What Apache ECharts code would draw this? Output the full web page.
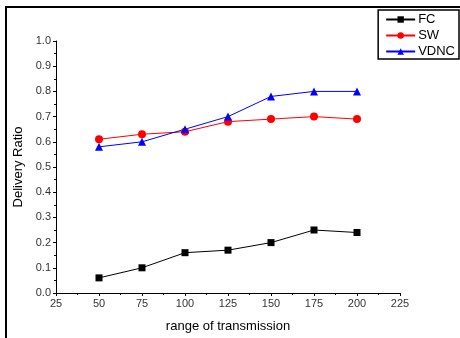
<!DOCTYPE html>
<html><head><meta charset="utf-8">
<script src="https://cdn.jsdelivr.net/npm/echarts@6/dist/echarts.min.js"></script>
<style>html,body{margin:0;padding:0;background:#fff}#c{width:460px;height:338px}</style>
</head><body><div id="c"></div>
<script>
var xValues = [50, 75, 100, 125, 150, 175, 200];
var fcValues = [0.06, 0.10, 0.16, 0.17, 0.20, 0.25, 0.24];
var swValues = [0.61, 0.63, 0.64, 0.68, 0.69, 0.70, 0.69];
var vdncValues = [0.58, 0.60, 0.65, 0.70, 0.78, 0.80, 0.80];
var seriesNames = ['FC', 'SW', 'VDNC'];

function pairs(ys){ return xValues.map(function(x,i){ return [x, ys[i]]; }); }
var chart = echarts.init(document.getElementById('c'), null, {renderer:'canvas'});
var font = 'Arial, "Liberation Sans", sans-serif';
chart.setOption({
  animation:false,
  backgroundColor:'#fff',
  grid:{left:56, right:60, top:41, bottom:43},
  legend:{
    show:true, orient:'vertical', right:1, top:10,
    data:seriesNames,
    itemWidth:29, itemHeight:8, itemGap:3,
    padding:[3,4,1,7],
    borderColor:'#000', borderWidth:1.5,
    textStyle:{fontFamily:font, fontSize:13, color:'#000', padding:[0,0,0,-2]}
  },
  xAxis:{
    type:'value', min:25, max:225, interval:25,
    name:'range of transmission', nameLocation:'middle', nameGap:27,
    nameTextStyle:{fontFamily:font, fontSize:13, color:'#000'},
    axisLine:{lineStyle:{color:'#000', width:1}},
    axisTick:{show:true, inside:false, length:3, lineStyle:{color:'#000'}},
    minorTick:{show:true, splitNumber:2, length:2, lineStyle:{color:'#000'}},
    axisLabel:{fontFamily:font, fontSize:11, color:'#333', margin:5},
    splitLine:{show:false}
  },
  yAxis:{
    type:'value', min:0, max:1, interval:0.1,
    name:'Delivery Ratio', nameLocation:'middle', nameGap:30,
    nameTextStyle:{fontFamily:font, fontSize:13, color:'#000'},
    axisLine:{show:true, lineStyle:{color:'#000', width:1}},
    axisTick:{show:true, inside:false, length:3, lineStyle:{color:'#000'}},
    minorTick:{show:true, splitNumber:2, length:2, lineStyle:{color:'#000'}},
    axisLabel:{fontFamily:font, fontSize:11, color:'#333', margin:5,
      formatter:function(v){ return v.toFixed(1); }},
    splitLine:{show:false}
  },
  graphic:[
    {type:'line', shape:{x1:5, y1:7, x2:460, y2:7}, style:{stroke:'#000', lineWidth:2}},
    {type:'line', shape:{x1:6, y1:6, x2:6, y2:338}, style:{stroke:'#000', lineWidth:2}}
  ],
  series:[
    {name:seriesNames[0], type:'line', data:pairs(fcValues), symbol:'rect', symbolSize:7,
     itemStyle:{color:'#000'}, lineStyle:{color:'#000', width:1}},
    {name:seriesNames[1], type:'line', data:pairs(swValues), symbol:'circle', symbolSize:8,
     itemStyle:{color:'#ff0000'}, lineStyle:{color:'#ff0000', width:1}},
    {name:seriesNames[2], type:'line', data:pairs(vdncValues), symbol:'triangle', symbolSize:8,
     itemStyle:{color:'#0000ff'}, lineStyle:{color:'#0000ff', width:1}}
  ]
});
</script></body></html>
